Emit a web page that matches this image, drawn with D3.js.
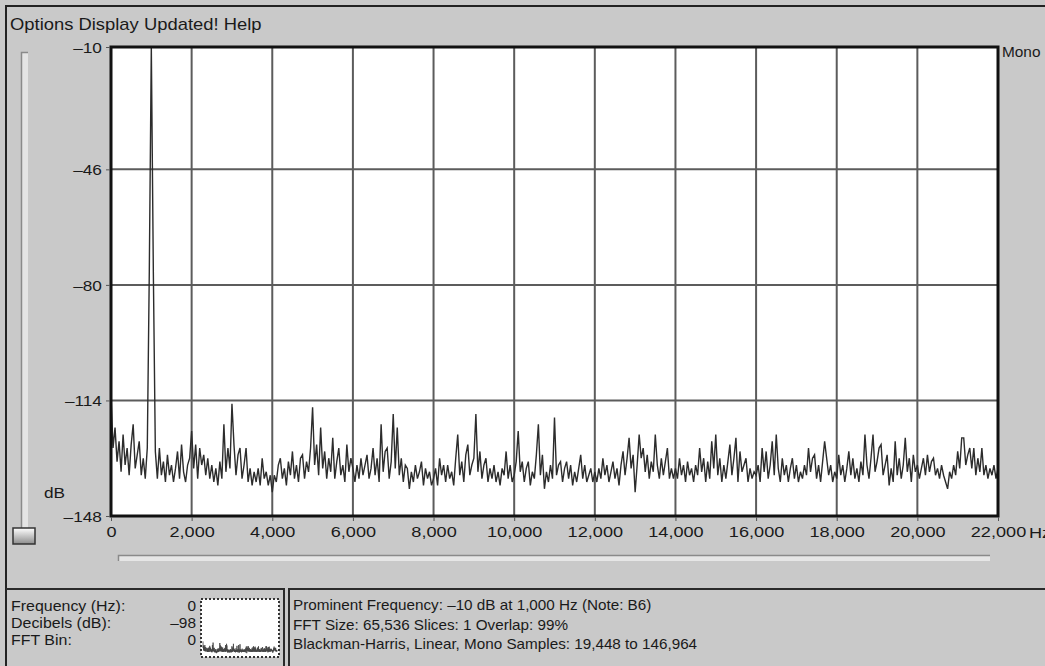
<!DOCTYPE html>
<html>
<head>
<meta charset="utf-8">
<script src="https://cdn.jsdelivr.net/npm/d3@7"></script>
<style>
  html, body { margin: 0; padding: 0; background: #c9c9c9; }
  svg { display: block; }
  text { font-family: "Liberation Sans", Arial, sans-serif; fill: #1a1a1a; }
</style>
</head>
<body>
<svg id="chart" width="1045" height="666"></svg>
<script>
// ---------------- data ----------------
const binHz = 50;                       // spacing of spectrum bins (Hz)
const spectrumDb = [
  // 0 – 1,950 Hz
  -112,-128,-122,-132,-126,-135,-124,-133,-128,-136,
  -127,-121,-134,-130,-126,-136,-131,-137,-128,-76,
  -10,-76,-129,-137,-128,-136,-132,-138,-130,-136,
  -133,-138,-134,-129,-137,-127,-135,-138,-133,-131,
  // 2,000 – 3,950 Hz
  -123,-134,-127,-137,-128,-133,-130,-136,-131,-137,
  -133,-138,-134,-139,-132,-137,-121,-135,-128,-134,
  -115,-127,-136,-130,-128,-137,-133,-128,-138,-134,
  -139,-135,-138,-134,-139,-131,-137,-135,-139,-136,
  // 4,000 – 5,950 Hz
  -141,-136,-138,-133,-131,-137,-134,-139,-132,-136,
  -129,-137,-133,-138,-131,-130,-137,-132,-135,-128,
  -116,-133,-127,-136,-122,-134,-129,-137,-131,-135,
  -125,-137,-132,-128,-136,-133,-138,-127,-135,-131,
  // 6,000 – 7,950 Hz
  -134,-138,-133,-137,-131,-136,-133,-130,-137,-134,
  -128,-136,-131,-138,-121,-135,-129,-128,-137,-132,
  -118,-134,-122,-136,-131,-138,-133,-134,-140,-135,
  -138,-133,-137,-135,-132,-139,-134,-137,-135,-139,
  // 8,000 – 9,950 Hz
  -137,-134,-139,-131,-136,-133,-138,-133,-137,-135,
  -139,-131,-124,-136,-132,-138,-130,-127,-136,-133,
  -131,-118,-135,-129,-137,-133,-131,-138,-134,-137,
  -133,-138,-135,-139,-134,-136,-129,-137,-133,-138,
  // 10,000 – 11,950 Hz
  -136,-132,-123,-135,-132,-138,-134,-132,-139,-135,
  -137,-130,-121,-136,-130,-140,-135,-138,-133,-137,
  -119,-136,-133,-132,-138,-134,-132,-137,-133,-139,
  -135,-138,-134,-130,-137,-133,-138,-136,-134,-138,
  // 12,000 – 13,950 Hz
  -135,-138,-134,-137,-131,-136,-133,-138,-135,-132,
  -137,-134,-139,-133,-129,-136,-131,-125,-134,-130,
  -141,-133,-124,-131,-128,-135,-130,-137,-132,-135,
  -124,-133,-137,-131,-136,-132,-128,-137,-134,-137,
  // 14,000 – 15,950 Hz
  -134,-137,-131,-136,-133,-138,-132,-136,-134,-138,
  -133,-136,-128,-135,-131,-138,-132,-137,-126,-134,
  -124,-136,-131,-138,-133,-137,-132,-127,-136,-131,
  -125,-138,-129,-135,-133,-131,-138,-134,-137,-135,
  // 16,000 – 17,950 Hz
  -136,-133,-138,-128,-135,-129,-137,-133,-126,-136,
  -124,-134,-138,-131,-136,-133,-138,-134,-131,-137,
  -133,-138,-135,-137,-133,-136,-128,-135,-131,-130,
  -137,-133,-138,-132,-126,-131,-136,-133,-138,-135,
  // 18,000 – 19,950 Hz
  -137,-130,-136,-133,-138,-134,-129,-136,-131,-137,
  -134,-138,-132,-136,-124,-133,-137,-131,-124,-135,
  -132,-128,-127,-136,-133,-130,-139,-134,-138,-126,
  -136,-131,-137,-133,-125,-135,-131,-138,-130,-135,
  // 20,000 – 22,000 Hz
  -133,-137,-134,-131,-136,-130,-135,-132,-131,-136,
  -134,-137,-133,-136,-138,-140,-135,-137,-133,-136,
  -129,-134,-125,-125,-133,-130,-128,-134,-128,-136,
  -131,-135,-128,-136,-133,-137,-134,-136,-133,-137,
  -134
];
const xTickValues = [0,2000,4000,6000,8000,10000,12000,14000,16000,18000,20000,22000];
const xTickLabels = ["0","2,000","4,000","6,000","8,000","10,000","12,000","14,000","16,000","18,000","20,000","22,000"];
const yTickValues = [-10,-46,-80,-114,-148];
const yTickLabels = ["–10","–46","–80","–114","–148"];
const menuText = "Options Display Updated! Help";
const infoLabels = ["Frequency (Hz):","Decibels (dB):","FFT Bin:"];
const infoValues = ["0","–98","0"];
const summaryLines = [
  "Prominent Frequency: –10 dB at 1,000 Hz (Note: B6)",
  "FFT Size: 65,536 Slices: 1 Overlap: 99%",
  "Blackman-Harris, Linear, Mono Samples: 19,448 to 146,964"
];

// ---------------- drawing ----------------
const svg = d3.select("#chart");
const series = spectrumDb.map((db, i) => ({ hz: i * binHz, db }));

const P = { left: 111, top: 47, right: 998, bottom: 516 };
const x = d3.scaleLinear().domain([0, 22000]).range([P.left, P.right]);
const y = d3.scaleLinear().domain([-148, -10]).range([P.bottom, P.top]);

function label(g, str, px, py, size, sx, anchor) {
  return g.append("text")
    .attr("transform", `translate(${px},${py}) scale(${sx},1)`)
    .attr("text-anchor", anchor || "start")
    .style("font-size", size + "px")
    .text(str);
}

// window frame
svg.append("line").attr("x1", 5).attr("x2", 1045).attr("y1", 6).attr("y2", 6)
  .attr("stroke", "#222").attr("stroke-width", 2);
svg.append("line").attr("x1", 6).attr("x2", 6).attr("y1", 5).attr("y2", 666)
  .attr("stroke", "#222").attr("stroke-width", 2);

// menu
label(svg, menuText, 10, 30, 16, 1.15);

// vertical slider
const defs = svg.append("defs");
const kg = defs.append("linearGradient").attr("id", "knob").attr("x1", 0).attr("x2", 0).attr("y1", 0).attr("y2", 1);
kg.append("stop").attr("offset", "0%").attr("stop-color", "#ffffff");
kg.append("stop").attr("offset", "100%").attr("stop-color", "#8c8c8c");
svg.append("rect").attr("x", 21).attr("y", 52).attr("width", 7).attr("height", 478)
  .attr("fill", "#e4e4e4");
svg.append("path").attr("d", "M21.5,530V52.5H28").attr("fill", "none").attr("stroke", "#8a8a8a").attr("stroke-width", 1.5);
svg.append("rect").attr("x", 13).attr("y", 528).attr("width", 22).attr("height", 16)
  .attr("fill", "url(#knob)").attr("stroke", "#333").attr("stroke-width", 1.5);

// horizontal scroll groove
svg.append("rect").attr("x", 118).attr("y", 555).attr("width", 872).attr("height", 6).attr("fill", "#e6e6e6");
svg.append("path").attr("d", "M118.5,561V555.5H990").attr("fill", "none").attr("stroke", "#8a8a8a").attr("stroke-width", 1.5);

// plot background
svg.append("rect").attr("x", P.left).attr("y", P.top)
  .attr("width", P.right - P.left).attr("height", P.bottom - P.top).attr("fill", "#fff");

// grid
const grid = svg.append("g").attr("stroke", "#5c5c5c").attr("stroke-width", 2);
grid.selectAll("line.v").data(xTickValues.slice(1, -1)).join("line")
  .attr("x1", d => x(d)).attr("x2", d => x(d)).attr("y1", P.top).attr("y2", P.bottom);
grid.selectAll("line.h").data(yTickValues.slice(1, -1)).join("line")
  .attr("x1", P.left).attr("x2", P.right).attr("y1", d => y(d)).attr("y2", d => y(d));

// spectrum trace
const line = d3.line().x(d => x(d.hz)).y(d => y(d.db));
svg.append("path").datum(series).attr("d", line)
  .attr("fill", "none").attr("stroke", "#2c2c2c").attr("stroke-width", 1.4).attr("stroke-linejoin", "miter");

// plot border
svg.append("rect").attr("x", P.left).attr("y", P.top)
  .attr("width", P.right - P.left).attr("height", P.bottom - P.top)
  .attr("fill", "none").attr("stroke", "#111").attr("stroke-width", 3);

// axes
const yAxis = d3.axisLeft(y).tickValues(yTickValues)
  .tickFormat((d, i) => yTickLabels[i]).tickSize(4).tickPadding(3);
const gy = svg.append("g").attr("transform", `translate(${P.left - 1},0)`).call(yAxis);
gy.select(".domain").remove();
gy.selectAll(".tick line").attr("stroke", "#555");
gy.selectAll(".tick text").style("font-size", "15px").attr("fill", "#1a1a1a")
  .attr("font-family", null).attr("transform", "scale(1.15,1)").attr("dy", "0.36em");

const xAxis = d3.axisBottom(x).tickValues(xTickValues)
  .tickFormat((d, i) => xTickLabels[i]).tickSize(4).tickPadding(5);
const gx = svg.append("g").attr("transform", `translate(0,${P.bottom + 1})`).call(xAxis);
gx.select(".domain").remove();
gx.selectAll(".tick line").attr("stroke", "#555");
gx.selectAll(".tick text").style("font-size", "15.5px").attr("fill", "#1a1a1a")
  .attr("font-family", null).attr("transform", "scale(1.17,1)");

label(svg, "Hz", 1029, 538, 15.5, 1.17);
label(svg, "dB", 44, 498, 15, 1.15);
label(svg, "Mono", 1002, 57, 14, 1.1);

// bottom panels
const pl = svg.append("g").attr("stroke", "#2a2a2a").attr("stroke-width", 2).attr("fill", "none");
pl.append("path").attr("d", "M6,589H284V666");
pl.append("path").attr("d", "M289,666V589H1045");

infoLabels.forEach((t, i) => label(svg, t, 11, 611 + i * 17, 14, 1.14));
infoValues.forEach((t, i) => label(svg, t, 196, 611 + i * 17, 14, 1.1, "end"));
summaryLines.forEach((t, i) => label(svg, t, 293, 610 + i * 19.5, 14, 1.09));

// inset thumbnail
svg.append("rect").attr("x", 201).attr("y", 599).attr("width", 78).attr("height", 58)
  .attr("fill", "#fff").attr("stroke", "#333").attr("stroke-width", 2).attr("stroke-dasharray", "2,2");
const xi = d3.scaleLinear().domain([0, 22000]).range([203, 277]);
const yi = d3.scaleLinear().domain([-148, -10]).range([656, 600]);
svg.append("path").datum(series.filter(d => d.db < -100))
  .attr("d", d3.line().x(d => xi(d.hz)).y(d => yi(d.db)))
  .attr("fill", "none").attr("stroke", "#444").attr("stroke-width", 0.8);
</script>
</body>
</html>
